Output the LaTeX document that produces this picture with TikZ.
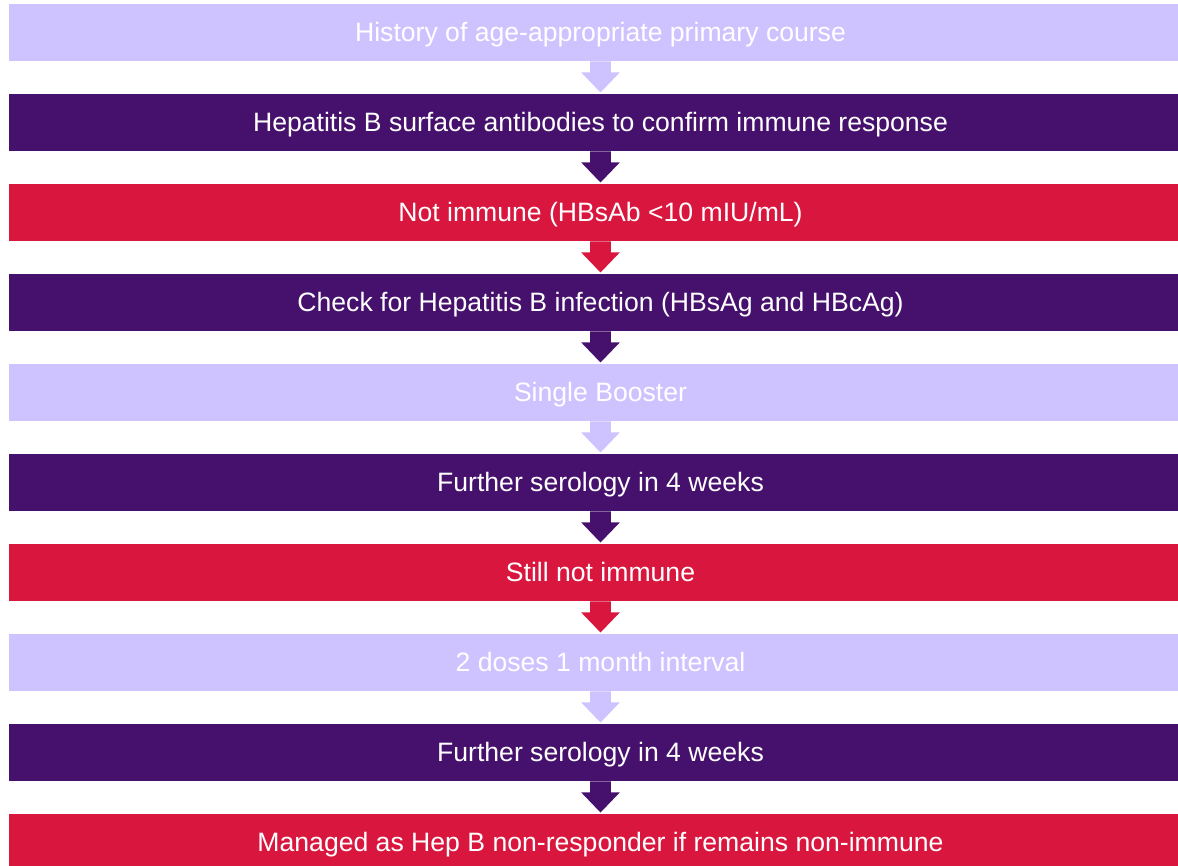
\documentclass[tikz,border=0pt]{standalone}
\usepackage{fontspec}
\setmainfont{Liberation Sans}
\definecolor{lav}{HTML}{CFC3FF}
\definecolor{plum}{HTML}{46116C}
\definecolor{crim}{HTML}{D9163E}
\tikzset{
  stepbox/.style={draw=none, minimum width=1183pt, minimum height=57pt, inner sep=0pt, text=white, font=\fontsize{26.6}{30}\selectfont, text height=20.5pt, text depth=3.5pt, anchor=north},
  lavbox/.style={stepbox, fill=lav},
  plumbox/.style={stepbox, fill=plum},
  crimbox/.style={stepbox, fill=crim}
}
\newcommand{\blockarrow}[3]{%
  \fill[#3] ($(#1.south)+(-10.3pt,0pt)$) -- ++(0pt,-11pt) -- ++(-9pt,0pt) -- ($(#2.north)+(0pt,1.5pt)$) -- ($(#1.south)+(19.3pt,-11pt)$) -- ++(-9pt,0pt) -- ($(#1.south)+(10.3pt,0pt)$) -- cycle;}
\usetikzlibrary{calc}
\begin{document}
\begin{tikzpicture}[x=1pt,y=-1pt]
\useasboundingbox (0,0) rectangle (1178,866);
\clip (0,0) rectangle (1178,866);
\fill[white] (0,0) rectangle (1178,866);
\node[lavbox]  (b1)  at (600.5,4)   {History of age-appropriate primary course};
\node[plumbox] (b2)  at (600.5,94)  {Hepatitis B surface antibodies to confirm immune response};
\node[crimbox] (b3)  at (600.5,184) {Not immune (HBsAb <10 mIU/mL)};
\node[plumbox] (b4)  at (600.5,274) {Check for Hepatitis B infection (HBsAg and HBcAg)};
\node[lavbox]  (b5)  at (600.5,364) {Single Booster};
\node[plumbox] (b6)  at (600.5,454) {Further serology in 4 weeks};
\node[crimbox] (b7)  at (600.5,544) {Still not immune};
\node[lavbox]  (b8)  at (600.5,634) {2 doses 1 month interval};
\node[plumbox] (b9)  at (600.5,724) {Further serology in 4 weeks};
\node[crimbox] (b10) at (600.5,814) {Managed as Hep B non-responder if remains non-immune};
\blockarrow{b1}{b2}{lav}
\blockarrow{b2}{b3}{plum}
\blockarrow{b3}{b4}{crim}
\blockarrow{b4}{b5}{plum}
\blockarrow{b5}{b6}{lav}
\blockarrow{b6}{b7}{plum}
\blockarrow{b7}{b8}{crim}
\blockarrow{b8}{b9}{lav}
\blockarrow{b9}{b10}{plum}
\end{tikzpicture}
\end{document}
